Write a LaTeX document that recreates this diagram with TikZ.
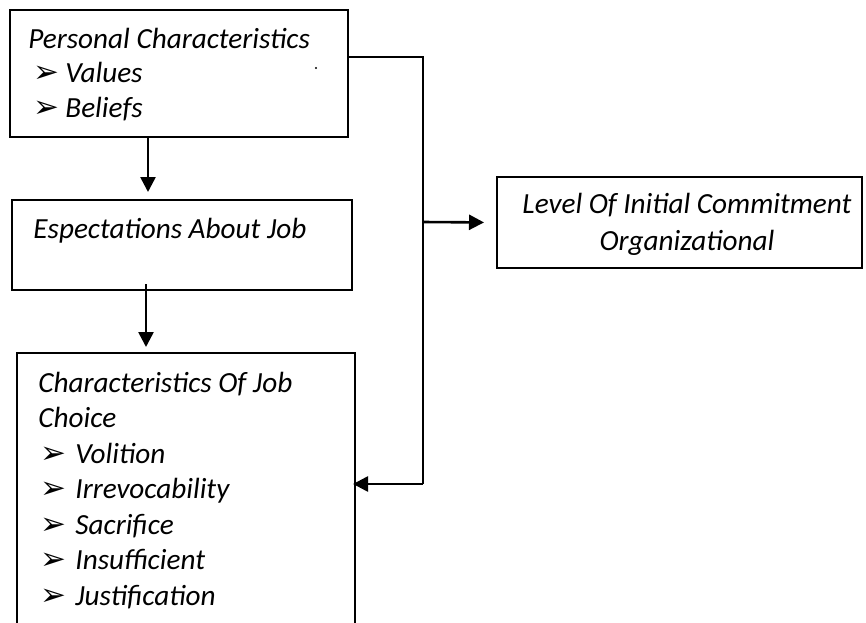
\documentclass[tikz,border=0pt]{standalone}
\usepackage{fontspec}
\setmainfont{Carlito}
\newfontfamily\dingfont{DejaVu Sans}
\usetikzlibrary{arrows.meta,positioning}
\newcommand{\bul}{{\dingfont\upshape\fontsize{15.5pt}{15.5pt}\selectfont ➢}}

\begin{document}
\begin{tikzpicture}
  [x=0.5pt, y=-0.5pt,
   box/.style={draw, line width=1pt, inner sep=0pt},
   txt/.style={inner sep=0pt, font=\fontsize{14.6pt}{17.5pt}\selectfont\itshape},
   arr/.style={line width=1.3pt, -{Triangle[length=7.5pt,width=7.5pt]}},
   wire/.style={line width=1.3pt}]
  \clip (0,0) rectangle (866,622);

  \node (pers) [box, minimum width=169pt, minimum height=63.5pt] at (179,73.5) {};
  \node (exp) [box, minimum width=170pt, minimum height=45pt] at (182,245) {};
  \node (choice) [box, minimum width=169pt, minimum height=143.5pt] at (186,496.5) {};
  \node (level) [box, minimum width=182.5pt, minimum height=45.5pt] at (679.5,222.5) {};

  \node (pers-t) [txt, align=left, anchor=base west, font=\fontsize{14.6pt}{17.25pt}\selectfont\itshape] at (28,117)
    {Personal Characteristics\\
     \hspace*{2.5pt}\makebox[16pt][l]{\bul}Values\\
     \hspace*{2.5pt}\makebox[16pt][l]{\bul}Beliefs};
  \node (exp-t) [txt, anchor=base west] at (33,238) {Espectations About Job};
  \node (choice-t) [txt, align=left, anchor=base west, font=\fontsize{14.6pt}{17.75pt}\selectfont\itshape] at (38,605)
    {Characteristics Of Job\\
     Choice\\
     \hspace*{1pt}\makebox[17.5pt][l]{\bul}Volition\\
     \hspace*{1pt}\makebox[17.5pt][l]{\bul}Irrevocability\\
     \hspace*{1pt}\makebox[17.5pt][l]{\bul}Sacrifice\\
     \hspace*{1pt}\makebox[17.5pt][l]{\bul}Insufficient\\
     \hspace*{1pt}\makebox[17.5pt][l]{\bul}Justification};
  \node (level-t) [txt, align=center, anchor=base, font=\fontsize{14.6pt}{18.5pt}\selectfont\itshape] at (687,250)
    {Level Of Initial Commitment\\Organizational};
  \fill (316,68) circle (0.6pt);

  \coordinate (a1) at ([xshift=-15.5pt]pers.south);
  \coordinate (a2) at ([xshift=-18pt]exp.south);
  \coordinate (top) at (423,57);
  \coordinate (split) at (423,222);
  \coordinate (bend) at (423,484);

  \draw[arr, shorten <=-1pt, shorten >=3.5pt] (a1) -- (a1 |- exp.north);
  \draw[arr, shorten <=-3.5pt, shorten >=2.5pt] (a2) -- (a2 |- choice.north);
  \draw[wire] (pers.east |- top) -- (top) -- (bend);
  \draw[arr, shorten >=6pt] (split) -- (level.west);
  \draw[arr, shorten >=-1.5pt] (bend) -- (choice.east |- bend);
\end{tikzpicture}
\end{document}
